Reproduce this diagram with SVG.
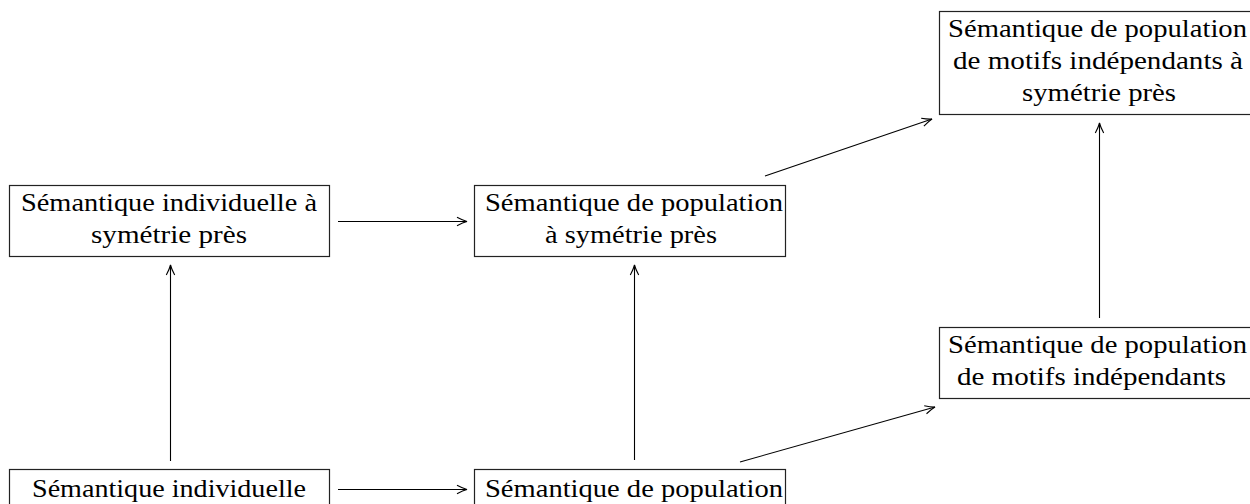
<svg xmlns="http://www.w3.org/2000/svg" width="1250" height="504" viewBox="0 0 1250 504">
<style>
.box{fill:#fff;stroke:#222;stroke-width:1.2}
.t{font-family:"Liberation Serif","Times New Roman",serif;font-size:25px;fill:#000}
.c{fill:none;stroke:#000;stroke-width:1.1}
</style>
<defs>
<marker id="ah" markerUnits="userSpaceOnUse" markerWidth="16" markerHeight="12" viewBox="-12 -6 14 12" refX="0" refY="0" orient="auto">
<path d="M-10,-4.2 Q-4,-1 0,0 Q-4,1 -10,4.2" fill="none" stroke="#000" stroke-width="1.1"/>
</marker>
</defs>
<rect width="1250" height="504" fill="#fff"/>
<g id="n1">
<rect class="box" x="9.5" y="185.5" width="320" height="71"/>
<text class="t" x="21" y="211" textLength="296" lengthAdjust="spacingAndGlyphs">Sémantique individuelle à</text>
<text class="t" x="91" y="243" textLength="156" lengthAdjust="spacingAndGlyphs">symétrie près</text>
</g>
<g id="n2">
<rect class="box" x="474.5" y="185.5" width="311" height="71"/>
<text class="t" x="485" y="211" textLength="298" lengthAdjust="spacingAndGlyphs">Sémantique de population</text>
<text class="t" x="545" y="243" textLength="172" lengthAdjust="spacingAndGlyphs">à symétrie près</text>
</g>
<g id="n3">
<rect class="box" x="939.5" y="11.5" width="320" height="103"/>
<text class="t" x="948" y="37" textLength="299" lengthAdjust="spacingAndGlyphs">Sémantique de population</text>
<text class="t" x="953" y="69" textLength="290" lengthAdjust="spacingAndGlyphs">de motifs indépendants à</text>
<text class="t" x="1022" y="101" textLength="154" lengthAdjust="spacingAndGlyphs">symétrie près</text>
</g>
<g id="n4">
<rect class="box" x="939.5" y="327.5" width="320" height="71"/>
<text class="t" x="948" y="353" textLength="299" lengthAdjust="spacingAndGlyphs">Sémantique de population</text>
<text class="t" x="957" y="385" textLength="269" lengthAdjust="spacingAndGlyphs">de motifs indépendants</text>
</g>
<g id="n5">
<rect class="box" x="9.5" y="469.5" width="320" height="71"/>
<text class="t" x="32" y="497" textLength="274" lengthAdjust="spacingAndGlyphs">Sémantique individuelle</text>
</g>
<g id="n6">
<rect class="box" x="474.5" y="469.5" width="311" height="71"/>
<text class="t" x="485" y="497" textLength="298" lengthAdjust="spacingAndGlyphs">Sémantique de population</text>
</g>
<g id="connectors">
<line class="c" x1="338" y1="221.5" x2="467" y2="221.5" marker-end="url(#ah)"/>
<line class="c" x1="170.5" y1="461" x2="170.5" y2="265" marker-end="url(#ah)"/>
<line class="c" x1="338" y1="489.5" x2="467" y2="489.5" marker-end="url(#ah)"/>
<line class="c" x1="634.5" y1="460" x2="634.5" y2="265" marker-end="url(#ah)"/>
<line class="c" x1="740" y1="462" x2="935" y2="407" marker-end="url(#ah)"/>
<line class="c" x1="765" y1="176" x2="932" y2="119" marker-end="url(#ah)"/>
<line class="c" x1="1099.5" y1="318" x2="1099.5" y2="123" marker-end="url(#ah)"/>
</g>
</svg>
